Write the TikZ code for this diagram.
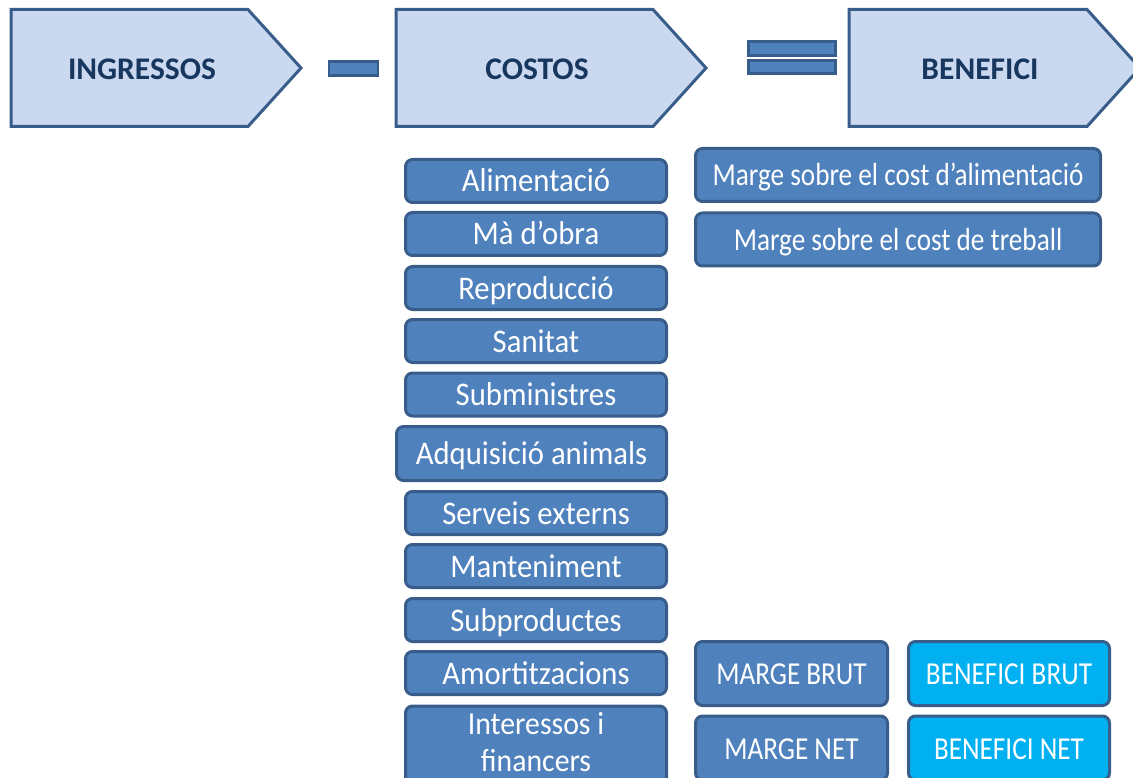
\documentclass[tikz,border=0pt]{standalone}
\usepackage{fontspec}
\setmainfont{Carlito}
\newfontfamily\leftfont[FakeStretch=0.93]{Carlito}
\newfontfamily\narrowfont[FakeStretch=0.85]{Carlito}
\definecolor{boxfill}{RGB}{79,129,189}
\definecolor{boxline}{RGB}{56,93,138}
\definecolor{cyanfill}{RGB}{0,176,240}
\definecolor{pentfill}{RGB}{202,216,240}
\definecolor{navytext}{RGB}{23,55,94}
\tikzset{
  pent/.style={draw=boxline, line width=3pt, fill=pentfill, line join=miter},
  headtext/.style={anchor=base, text=navytext, font=\bfseries\fontsize{31.5}{37}\selectfont, inner sep=0pt},
  signbar/.style={draw=boxline, line width=2.5pt, fill=boxfill, inner sep=0pt},
  cbox/.style={draw=boxline, line width=3pt, fill=boxfill, rounded corners=7pt, text=white,
    inner sep=0pt, text height=22pt, text depth=0pt, align=center},
  lbox/.style={cbox, font=\leftfont\fontsize{33}{39}\selectfont, minimum width=261pt, minimum height=43pt},
  rbox/.style={cbox, font=\narrowfont\fontsize{32}{37}\selectfont},
  rwide/.style={rbox, minimum width=405pt, minimum height=53pt},
  rsmall/.style={rbox, minimum width=192pt, minimum height=64pt},
  csmall/.style={rsmall, fill=cyanfill, minimum width=201pt},
  ltext/.style={text=white, font=\leftfont\fontsize{32}{37}\selectfont, inner sep=0pt, align=center}
}
\begin{document}
\begin{tikzpicture}[x=1pt,y=-1pt]
\useasboundingbox (0,0) rectangle (1133,778);
\clip (0,0) rectangle (1133,778);
% header arrows
\draw[pent] (11,9.5) -- (248,9.5) -- (301,68) -- (248,126.5) -- (11,126.5) -- cycle;
\draw[pent] (396,9.5) -- (653,9.5) -- (706,68) -- (653,126.5) -- (396,126.5) -- cycle;
\draw[pent] (849,9.5) -- (1087,9.5) -- (1140,68) -- (1087,126.5) -- (849,126.5) -- cycle;
\node[headtext] (ingressos) at (142,80) {INGRESSOS};
\node[headtext] (costos) at (537,80) {COSTOS};
\node[headtext] (benefici) at (980,80) {BENEFICI};
% signs
\node[signbar, minimum width=49pt, minimum height=14pt] (minus) at (353.5,68.5) {};
\node[signbar, minimum width=87pt, minimum height=14pt] (eqtop) at (792,48.5) {};
\node[signbar, minimum width=87pt, minimum height=13pt] (eqbot) at (792,67) {};
% cost column
\node[lbox] (c1) at (536,181) {Alimentació};
\node[lbox] (c2) at (536,234) {Mà d’obra};
\node[lbox] (c3) at (536,288) {Reproducció};
\node[lbox] (c4) at (536,341) {Sanitat};
\node[lbox] (c5) at (536,394.5) {Subministres};
\node[lbox, minimum width=270pt, minimum height=54pt] (c6) at (531.5,453.5) {Adquisició animals};
\node[lbox] (c7) at (536,513) {Serveis externs};
\node[lbox] (c8) at (536,566) {Manteniment};
\node[lbox] (c9) at (536,620) {Subproductes};
\node[lbox] (c10) at (536,673) {Amortitzacions};
\node[lbox, minimum height=80pt] (c11) at (536,746) {};
\node[ltext, anchor=north] (c11t) at (536,712) {Interessos i\\financers};
% margin column
\node[rwide] (m1) at (898,175) {Marge sobre el cost d’alimentació};
\node[rwide] (m2) at (898,239.5) {Marge sobre el cost de treball};
\node[rsmall] (mb) at (791.5,673.5) {MARGE BRUT};
\node[rsmall] (mn) at (791.5,748) {MARGE NET};
\node[csmall] (bb) at (1009,673.5) {BENEFICI BRUT};
\node[csmall] (bn) at (1009,748) {BENEFICI NET};
\end{tikzpicture}
\end{document}
